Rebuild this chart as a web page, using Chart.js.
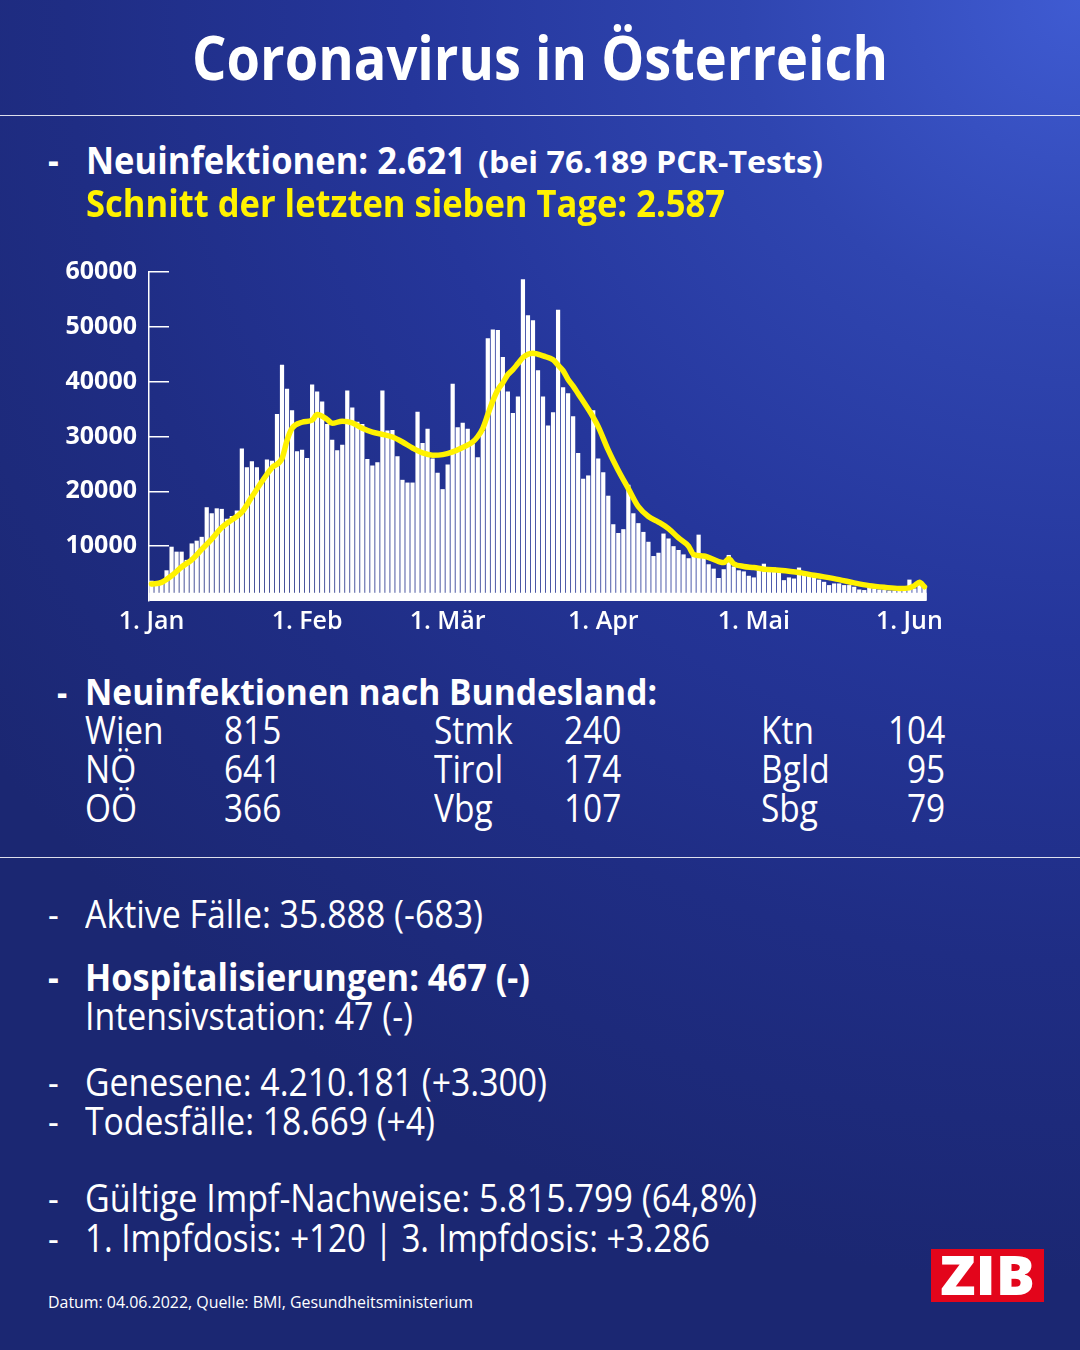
<!DOCTYPE html>
<html lang="de">
<head>
<meta charset="utf-8">
<title>Coronavirus in Österreich</title>
<script src="https://cdn.jsdelivr.net/npm/chart.js@4.4.1/dist/chart.umd.min.js"></script>
<style>
  html, body { margin: 0; padding: 0; }
  body {
    width: 1080px; height: 1350px; position: relative; overflow: hidden;
    font-family: "Open Sans", sans-serif; color: #fff;
    background: radial-gradient(ellipse 125% 95% at 100% 0%, #3f5bd2 0%, #2f45b0 25%, #25369b 50%, #1f2d84 75%, #1b2772 100%);
  }
  .t { position: absolute; white-space: nowrap; line-height: 1; transform-origin: 0 0; }
  .rule { position: absolute; left: 0; width: 1080px; height: 1px; background: rgba(255,255,255,0.85); }
  #chartBox { position: absolute; left: 40px; top: 225px; width: 920px; height: 425px; }
  #zib { position: absolute; left: 931px; top: 1249px; width: 113px; height: 53px; background: #e3051b; }
</style>
</head>
<body>
<div class="rule" style="top:115px"></div>
<div class="rule" style="top:857px"></div>
<div id="chartBox"><canvas id="casesChart"></canvas></div>
<div id="zib"></div>
<div id="texts"></div>

<script>
// daily new infections, 1 Jan - 4 Jun 2022
const monthNames = ['Jan', 'Feb', 'Mär', 'Apr', 'Mai', 'Jun'];
const monthDays = [31, 28, 31, 30, 31, 4];
const newCases = [
    // Jan
    3700, 3200, 3500, 5600, 9900, 9000, 9000, 7500, 10500, 11000, 11700, 17100, 16000, 16900, 16800, 15000,
    15500, 16500, 27800, 24400, 25500, 24400, 22000, 25800, 25600, 34100, 43100, 38700, 34800, 27300, 27600,
    // Feb
    26100, 39500, 38200, 36400, 32300, 29400, 27500, 28500, 38400, 35300, 32700, 32300, 25900, 24700,
    25300, 38400, 31100, 31200, 26400, 22100, 21600, 21600, 34500, 28800, 31400, 26000, 23400, 20400,
    // Mär
    24900, 39600, 31700, 32500, 31400, 28700, 26200, 31000, 47900, 49500, 49400, 44500, 38200, 34300, 37300,
    58700, 52100, 51200, 42100, 37300, 32000, 34400, 53100, 39000, 37900, 33700, 27000, 22300, 22900, 34800, 26000,
    // Apr
    23500, 19200, 14000, 12400, 13100, 21200, 16000, 14200, 12600, 10800, 8200, 8800, 12300, 11400, 10000,
    9300, 8500, 7800, 8700, 12100, 7900, 6700, 5900, 4200, 5800, 8400, 6300, 5600, 5400, 4600,
    // Mai
    4300, 5600, 6800, 5900, 6100, 5600, 3800, 4300, 4100, 6100, 5000, 4700, 4400, 3900, 3500, 2900,
    3200, 3200, 2900, 2900, 2600, 2100, 2000, 2500, 2300, 2100, 2000, 1900, 1900, 2000, 2000,
    // Jun
    3900, 2300, 3500, 2621
];
// yellow 7-day average, read at these day indexes (0 = 1. Jan)
const avgDays = [0, 2, 4, 6, 8, 10, 12, 14, 16, 18, 20, 22, 24, 26, 27, 28, 30, 32, 33, 35, 36, 38, 40, 42, 44,
    46, 48, 50, 52, 54, 56, 58, 60, 62, 64, 65, 66, 67, 68, 69, 70, 71, 72, 73, 74, 75, 76, 77, 78, 80, 81, 82,
    83, 84, 85, 87, 88, 89, 91, 93, 95, 97, 99, 101, 103, 105, 107, 108, 110, 113, 114, 115, 116, 118, 120, 122,
    125, 129, 132, 134, 137, 140, 143, 146, 149, 151, 152, 153, 154];
const avgValues = [3100, 3400, 4600, 6200, 7500, 9400, 11300, 13400, 14800, 16200, 19000, 21800, 24300, 26000,
    29300, 31500, 32600, 33000, 34000, 33100, 32400, 32800, 32500, 31500, 30800, 30400, 29900, 29000, 27900,
    27000, 26600, 26700, 27200, 28000, 29000, 30000, 31500, 34000, 36500, 38500, 39800, 41300, 42200, 43300,
    44400, 45000, 45200, 45000, 44700, 44000, 43000, 42000, 40400, 39200, 37800, 35000, 33500, 31800, 27500,
    23800, 20500, 17200, 15400, 14400, 13200, 11500, 10000, 8500, 8200, 7200, 7000, 7700, 6800, 6300, 6100,
    5800, 5600, 5200, 4700, 4400, 3900, 3300, 2800, 2500, 2300, 2400, 2800, 3400, 2600];
const yTicks = [10000, 20000, 30000, 40000, 50000, 60000];

const yellow = '#fff200';

// text blocks: [text, x, baseline, size, weight, color, width, align]
const texts = [
    ['Coronavirus in Österreich', 540, 80, 60, 700, '#fff', 696, 'center'],
    ['-', 48, 174, 38, 700, '#fff'],
    ['Neuinfektionen: 2.621', 86, 174, 38, 700, '#fff', 380],
    ['(bei 76.189 PCR-Tests)', 478, 173, 30, 700, '#fff', 345],
    ['Schnitt der letzten sieben Tage: 2.587', 86, 217, 38, 700, yellow, 639],
    ['-', 57, 705, 36, 700, '#fff'],
    ['Neuinfektionen nach Bundesland:', 85, 705, 36, 700, '#fff', 572],
    ['Wien', 85, 744, 38, 400], ['815', 224, 744, 38, 400], ['Stmk', 434, 744, 38, 400],
    ['240', 564, 744, 38, 400], ['Ktn', 761, 744, 38, 400], ['104', 945, 744, 38, 400, '#fff', 0, 'right'],
    ['NÖ', 85, 783, 38, 400], ['641', 224, 783, 38, 400], ['Tirol', 434, 783, 38, 400],
    ['174', 564, 783, 38, 400], ['Bgld', 761, 783, 38, 400], ['95', 945, 783, 38, 400, '#fff', 0, 'right'],
    ['OÖ', 85, 822, 38, 400], ['366', 224, 822, 38, 400], ['Vbg', 434, 822, 38, 400],
    ['107', 564, 822, 38, 400], ['Sbg', 761, 822, 38, 400], ['79', 945, 822, 38, 400, '#fff', 0, 'right'],
    ['-', 48, 928, 38, 400], ['Aktive Fälle: 35.888 (-683)', 85, 928, 38, 400, '#fff', 398],
    ['-', 48, 991, 38, 700], ['Hospitalisierungen: 467 (-)', 85, 991, 38, 700, '#fff', 445],
    ['Intensivstation: 47 (-)', 85, 1030, 38, 400, '#fff', 328],
    ['-', 48, 1096, 38, 400], ['Genesene: 4.210.181 (+3.300)', 85, 1096, 38, 400, '#fff', 462],
    ['-', 48, 1135, 38, 400], ['Todesfälle: 18.669 (+4)', 85, 1135, 38, 400, '#fff', 350],
    ['-', 48, 1212, 38, 400], ['Gültige Impf-Nachweise: 5.815.799 (64,8%)', 85, 1212, 38, 400, '#fff', 672],
    ['-', 48, 1252, 38, 400], ['1. Impfdosis: +120 | 3. Impfdosis: +3.286', 85, 1252, 38, 400, '#fff', 625],
    ['Datum: 04.06.2022, Quelle: BMI, Gesundheitsministerium', 48, 1308, 16, 400, '#fff', 425],
    ['ZIB', 987.5, 1295, 54, 800, '#fff', 95, 'center']
];

function placeText(t) {
    const [txt, x, base, size, weight, color, width, align] = t;
    const el = document.createElement('div');
    el.className = 't';
    el.style.fontSize = size + 'px';
    el.style.fontWeight = weight;
    el.style.color = color || '#fff';
    el.textContent = txt;
    const mark = document.createElement('span');
    mark.style.cssText = 'display:inline-block;width:0;height:0;vertical-align:baseline';
    el.appendChild(mark);
    document.getElementById('texts').appendChild(el);

    const natural = el.getBoundingClientRect().width;
    const baseOff = mark.getBoundingClientRect().top - el.getBoundingClientRect().top;
    const scale = width ? width / natural : 0.88;
    const w = natural * scale;
    let left = x;
    if (align === 'center') left = x - w / 2;
    if (align === 'right') left = x - w;
    el.style.left = left + 'px';
    el.style.top = (base - baseOff) + 'px';
    el.style.transform = 'scaleX(' + scale + ')';
}
texts.forEach(placeText);

// category labels "1. Jan" ... "4. Jun"
const labels = [];
monthNames.forEach(function (m, i) {
    for (let d = 1; d <= monthDays[i]; d++) labels.push(d + '. ' + m);
});
const avgSeries = labels.map(() => null);
avgDays.forEach(function (d, i) { avgSeries[d] = avgValues[i]; });

// solid white strip along the foot of the bars
const baseBand = {
    id: 'baseBand',
    beforeDatasetsDraw(chart) {
        const ctx = chart.ctx;
        const y = chart.scales.y;
        const bars = chart.getDatasetMeta(1).data;
        const x0 = bars[0].x - bars[0].width / 2;
        const x1 = bars[bars.length - 1].x + bars[bars.length - 1].width / 2;
        ctx.save();
        ctx.fillStyle = '#ffffff';
        ctx.fillRect(x0, y.getPixelForValue(1500), x1 - x0, y.getPixelForValue(0) - y.getPixelForValue(1500));
        ctx.restore();
    }
};

var casesChart = new Chart(document.getElementById('casesChart').getContext('2d'), {
    type: 'bar',
    data: {
        labels: labels,
        datasets: [
            {
                type: 'line',
                data: avgSeries,
                borderColor: yellow,
                borderWidth: 5.5,
                pointRadius: 0,
                spanGaps: true,
                cubicInterpolationMode: 'monotone',
                borderJoinStyle: 'round',
                borderCapStyle: 'round',
                order: 0
            },
            {
                data: newCases,
                backgroundColor: '#ffffff',
                barPercentage: 0.84,
                categoryPercentage: 1,
                order: 1
            }
        ]
    },
    options: {
        responsive: true,
        maintainAspectRatio: false,
        animation: false,
        // the y ticks padding is also added above the plot, so the box starts higher
        layout: { padding: { top: 0, right: 33, left: 0, bottom: 0 } },
        plugins: { legend: { display: false }, tooltip: { enabled: false } },
        scales: {
            x: {
                grid: { display: false, drawTicks: false },
                border: { display: false },
                ticks: {
                    color: '#fff',
                    font: { family: 'Open Sans', size: 25, weight: '600' },
                    autoSkip: false,
                    maxRotation: 0,
                    padding: 6,
                    callback: function (v, i) { return labels[i].indexOf('1. ') === 0 ? labels[i] : ''; }
                },
                afterFit: function (s) { s.height = 49; }
            },
            y: {
                min: 0,
                max: 60000,
                afterBuildTicks: function (s) { s.ticks = [0].concat(yTicks).map(v => ({ value: v })); },
                ticks: {
                    color: '#fff',
                    font: { family: 'Open Sans', size: 25, weight: 'bold' },
                    padding: 32,
                    callback: function (v) { return v === 0 ? '' : String(v); }
                },
                grid: {
                    drawOnChartArea: false,
                    tickLength: -20,
                    lineWidth: 1.5,
                    color: function (c) { return c.tick && c.tick.value === 0 ? 'rgba(0,0,0,0)' : '#ffffff'; }
                },
                border: { display: true, color: '#ffffff', width: 1.5 },
                afterFit: function (s) { s.width = 109; }
            }
        }
    },
    plugins: [baseBand]
});
</script>
</body>
</html>
